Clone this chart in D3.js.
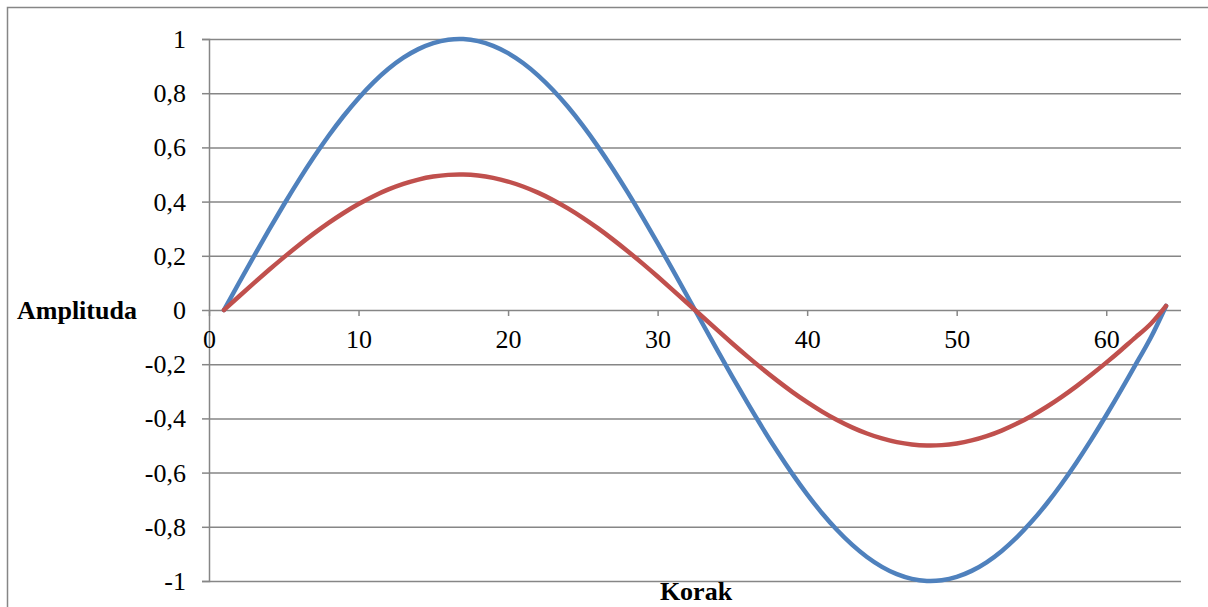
<!DOCTYPE html>
<html>
<head>
<meta charset="utf-8">
<script src="https://cdn.jsdelivr.net/npm/d3@7"></script>
<style>
  html, body { margin: 0; padding: 0; background: #fff; }
  svg text { font-family: "Liberation Serif", "Times New Roman", serif; fill: #000; }
</style>
</head>
<body>
<svg id="chart" width="1208" height="607"></svg>
<script>
// ---- data ----
const korak = d3.range(1, 65); // x positions 1..64
const blueValues = [
  0, 0.0996, 0.1981, 0.2948, 0.3884, 0.4783, 0.5633, 0.6428, 0.7159, 0.7818,
  0.8400, 0.8899, 0.9309, 0.9626, 0.9848, 0.9972, 0.9997, 0.9922, 0.9749, 0.9479,
  0.9115, 0.8660, 0.8119, 0.7498, 0.6802, 0.6039, 0.5214, 0.4339, 0.3420, 0.2468,
  0.1490, 0.0498, -0.0498, -0.1490, -0.2468, -0.3420, -0.4339, -0.5214, -0.6039, -0.6802,
  -0.7498, -0.8119, -0.8660, -0.9115, -0.9479, -0.9749, -0.9922, -0.9997, -0.9972, -0.9848,
  -0.9626, -0.9309, -0.8899, -0.8400, -0.7818, -0.7159, -0.6428, -0.5633, -0.4783, -0.3884,
  -0.2948, -0.1981, -0.0996, 0.015
];
const redValues = [
  0, 0.0498, 0.0991, 0.1474, 0.1942, 0.2391, 0.2817, 0.3214, 0.3580, 0.3909,
  0.4200, 0.4449, 0.4654, 0.4813, 0.4924, 0.4986, 0.4998, 0.4961, 0.4875, 0.4740,
  0.4557, 0.4330, 0.4060, 0.3749, 0.3401, 0.3020, 0.2607, 0.2169, 0.1710, 0.1234,
  0.0745, 0.0249, -0.0249, -0.0745, -0.1234, -0.1710, -0.2169, -0.2607, -0.3020, -0.3401,
  -0.3749, -0.4060, -0.4330, -0.4557, -0.4740, -0.4875, -0.4961, -0.4998, -0.4986, -0.4924,
  -0.4813, -0.4654, -0.4449, -0.4200, -0.3909, -0.3580, -0.3214, -0.2817, -0.2391, -0.1942,
  -0.1474, -0.0991, -0.0498, 0.015
];
const xTicks = [0, 10, 20, 30, 40, 50, 60];
const yTicks = [1, 0.8, 0.6, 0.4, 0.2, 0, -0.2, -0.4, -0.6, -0.8, -1];
const xTitle = "Korak";
const yTitle = "Amplituda";

// ---- layout ----
const svg = d3.select("#chart");
const gridColor = "#868686";
const fontSize = "26px";
const x = d3.scaleLinear().domain([0, 65]).range([209, 1181]);
const y = d3.scaleLinear().domain([-1, 1]).range([581, 39]);
const fmt = v => String(v).replace(".", ",");

// outer chart border
svg.append("rect")
  .attr("x", 7.5).attr("y", 7.5).attr("width", 1400).attr("height", 800)
  .attr("fill", "none").attr("stroke", gridColor).attr("stroke-width", 1.5);

// horizontal gridlines (+ y tick marks)
const yAxis = d3.axisLeft(y).tickValues(yTicks).tickSize(7).tickFormat(fmt);
const yG = svg.append("g").attr("transform", `translate(${x(0)},0)`).call(yAxis);
yG.select(".domain").attr("stroke", gridColor).attr("stroke-width", 1.5);
yG.selectAll(".tick line").attr("stroke", gridColor).attr("stroke-width", 1.5);
yG.selectAll(".tick text")
  .attr("x", -23).attr("dy", "0.33em")
  .style("font-size", fontSize).style("font-family", "Liberation Serif");
yG.selectAll(".tick").append("line")
  .attr("x1", 0).attr("x2", x(65) - x(0))
  .attr("stroke", gridColor).attr("stroke-width", 1.5);

// x axis at y = 0
const xAxis = d3.axisBottom(x).tickValues(xTicks).tickSize(6).tickFormat(d3.format("d"));
const xG = svg.append("g").attr("transform", `translate(0,${y(0)})`).call(xAxis);
xG.select(".domain").remove();
xG.selectAll(".tick line").attr("stroke", gridColor).attr("stroke-width", 1.5);
xG.selectAll(".tick text")
  .attr("y", 38).attr("dy", "0")
  .style("font-size", fontSize).style("font-family", "Liberation Serif");

// lines
const line = vals => d3.line()
  .x((d, i) => x(korak[i]))
  .y(d => y(d))
  .curve(d3.curveNatural)(vals);

svg.append("path").attr("d", line(blueValues))
  .attr("fill", "none").attr("stroke", "#4F81BD").attr("stroke-width", 4.5)
  .attr("stroke-linecap", "round").attr("stroke-linejoin", "round");
svg.append("path").attr("d", line(redValues))
  .attr("fill", "none").attr("stroke", "#C0504D").attr("stroke-width", 4.5)
  .attr("stroke-linecap", "round").attr("stroke-linejoin", "round");

// titles
svg.append("text").text(yTitle)
  .attr("x", 17).attr("y", y(0)).attr("dy", "0.35em")
  .style("font-size", fontSize).style("font-weight", "bold");
svg.append("text").text(xTitle)
  .attr("x", 696).attr("y", 600).attr("text-anchor", "middle")
  .style("font-size", fontSize).style("font-weight", "bold");
</script>
</body>
</html>
